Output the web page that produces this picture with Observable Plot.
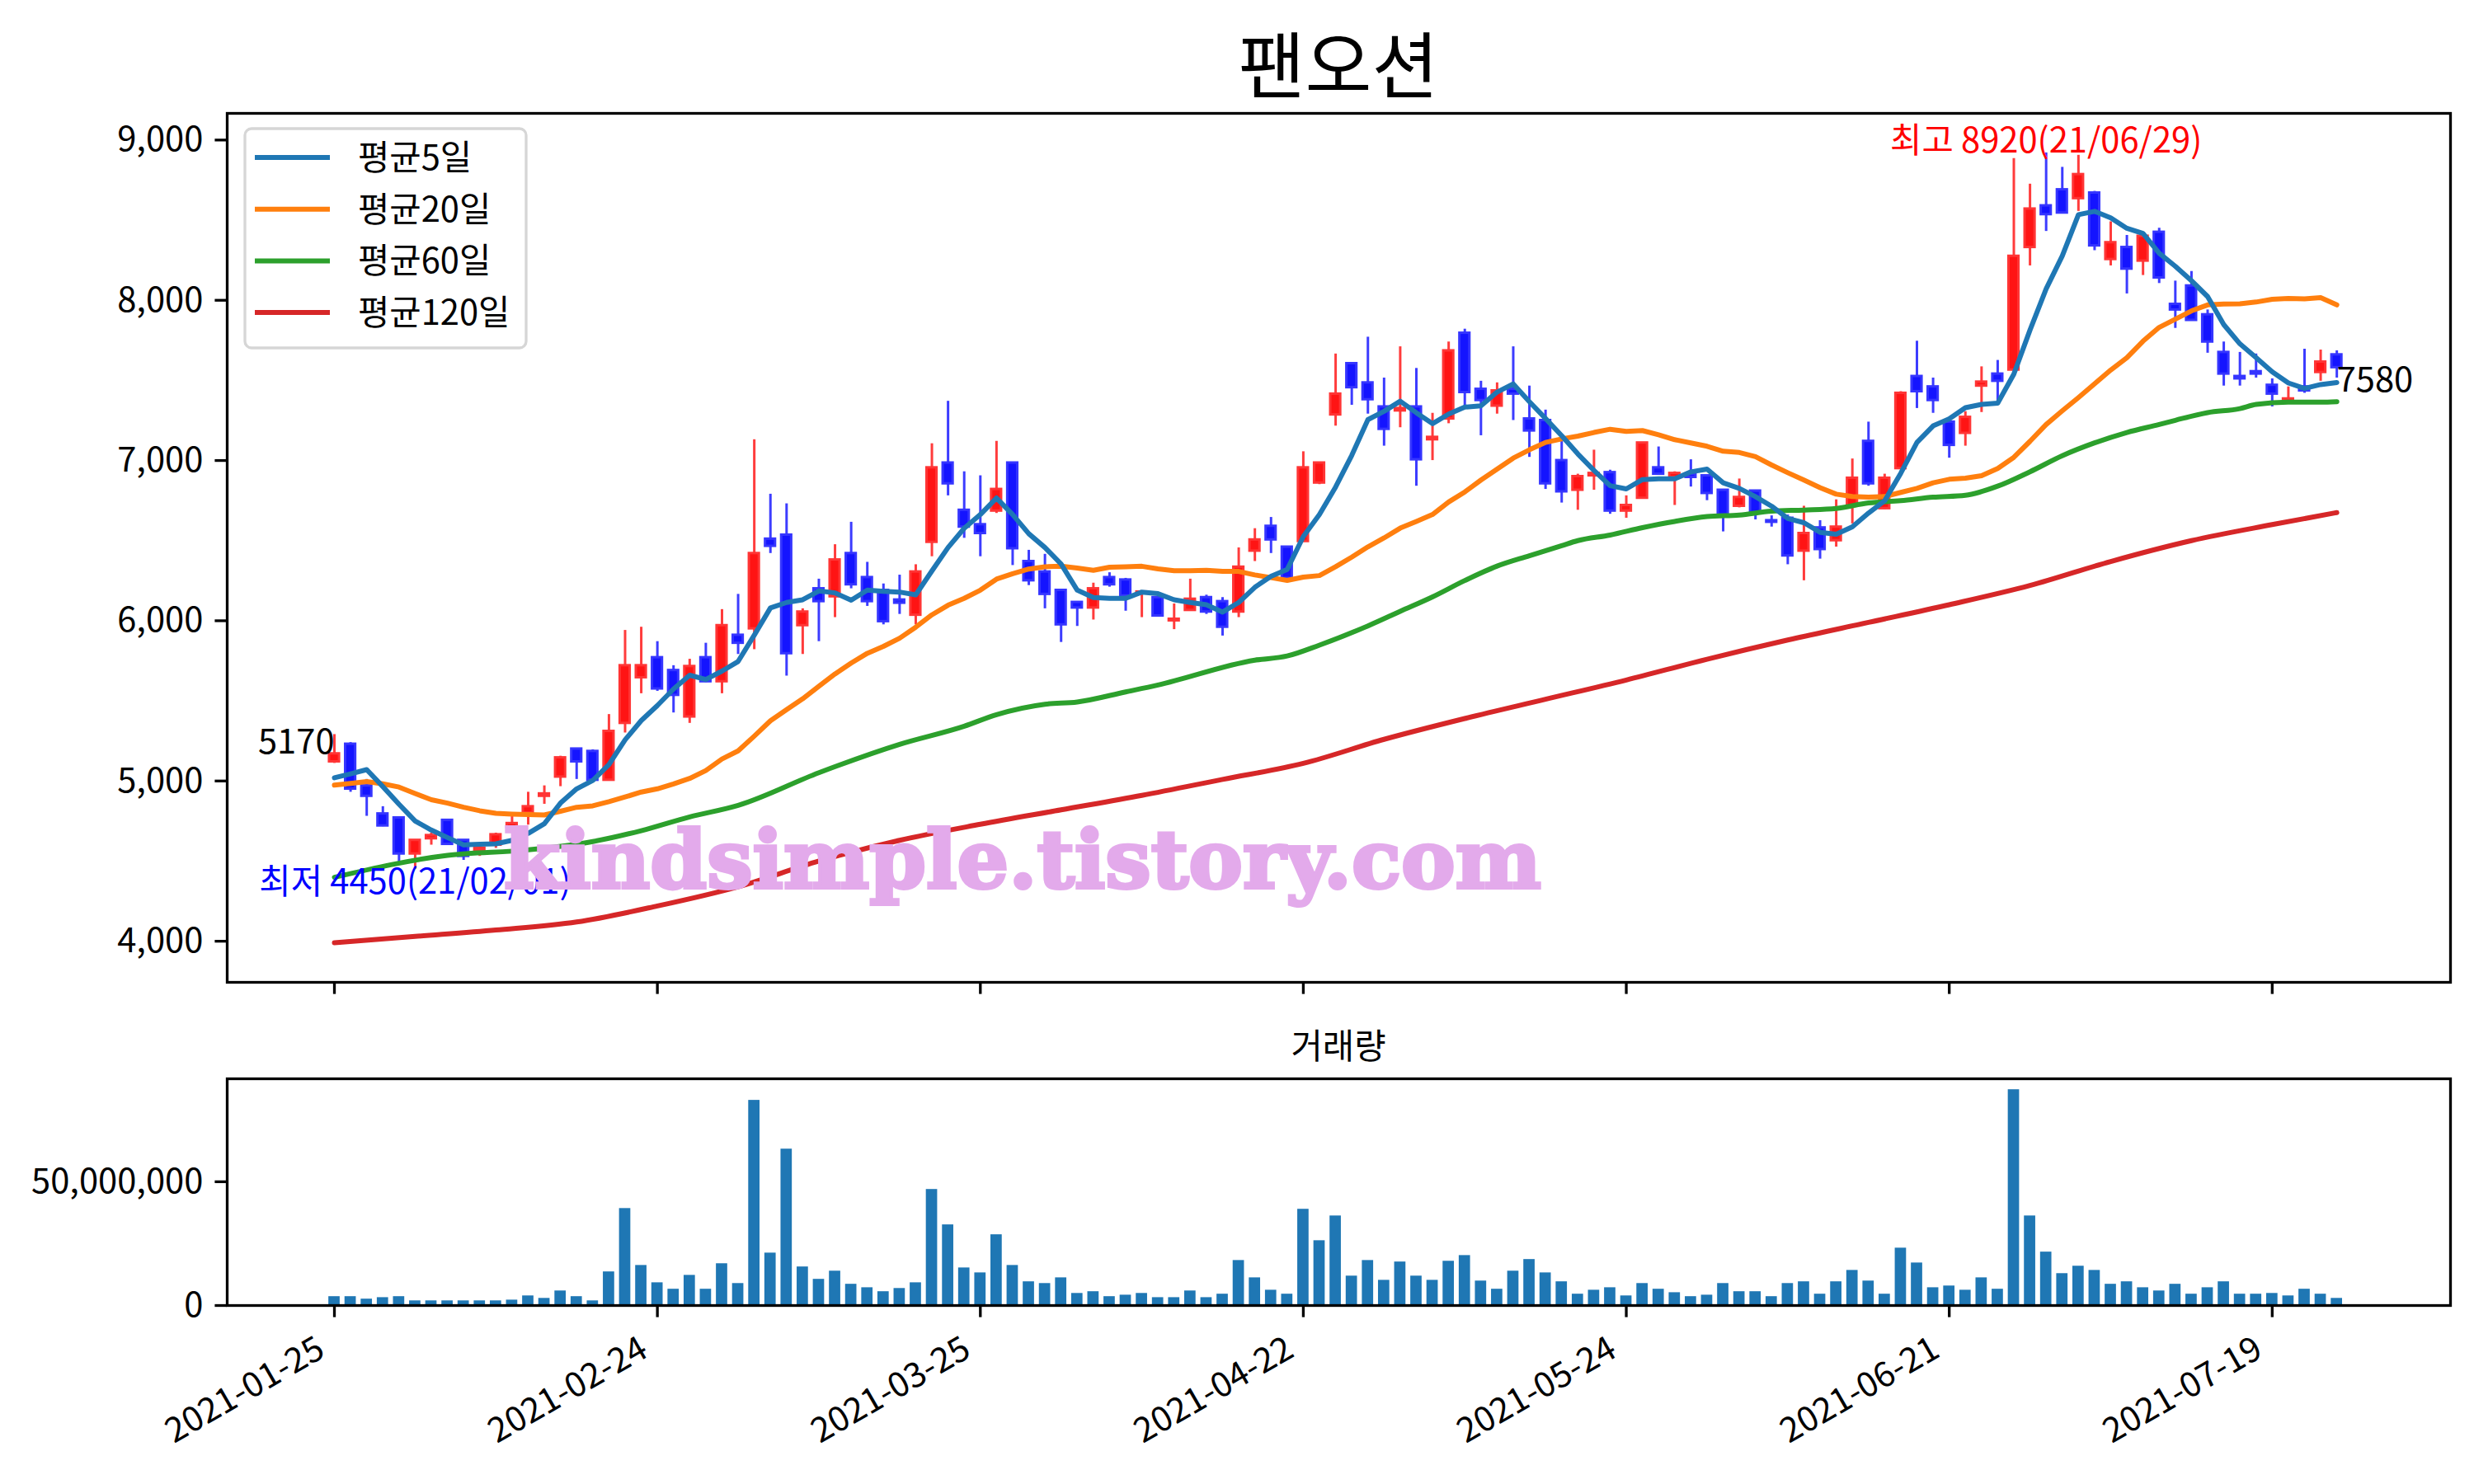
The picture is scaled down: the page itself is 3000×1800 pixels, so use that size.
<!DOCTYPE html>
<html><head><meta charset="utf-8">
<script src="https://cdn.jsdelivr.net/npm/d3@7"></script>
<script src="https://cdn.jsdelivr.net/npm/@observablehq/plot@0.6"></script>
<style>
body{margin:0;background:#fff;}
#fig{position:relative;width:3000px;height:1800px;background:#fff;overflow:hidden;}
#fig > *{position:absolute;left:0;}
</style></head><body><div id="fig"></div>
<script>
// ---- tick labels (trading-day index -> date) ----
const tickIdx = [0, 20, 40, 60, 80, 100, 120];
const tickLabels = ["2021-01-25","2021-02-24","2021-03-25","2021-04-22","2021-05-24","2021-06-21","2021-07-19"];

// ---- daily prices (index 0 = 2021-01-25 ... 124 = 2021-07-23) ----
const open = [5120,5230,4970,4795,4770,4545,4640,4755,4630,4565,4600,4710,4800,4905,5025,5200,5185,5005,5360,5645,
5770,5690,5400,5770,5620,5910,5950,6510,6535,5970,6200,6150,6420,6270,6190,6130,6035,6490,6985,6690,
6600,6685,6985,6370,6305,6190,6115,6080,6270,6255,6170,6145,6000,6065,6145,6120,6055,6435,6590,6460,
6495,6860,7285,7605,7485,7335,7310,7335,7130,7260,7795,7445,7340,7445,7260,7250,7000,6815,6905,6925,
6685,6765,6955,6895,6915,6905,6815,6715,6810,6625,6640,6435,6580,6500,6715,7120,6700,6950,7525,7460,
7240,7170,7465,7540,7565,8330,8590,8690,8635,8670,8255,8330,8245,8425,7975,8090,7910,7675,7525,7555,
7470,7365,7460,7550,7660];
const high = [5290,5240,5010,4840,4770,4630,4675,4755,4630,4590,4675,4780,4930,4970,5155,5200,5195,5415,5940,5960,
5870,5720,5760,5860,6070,6165,7130,6790,6730,6075,6260,6475,6615,6365,6230,6285,6350,7105,7370,6930,
6905,7120,6990,6440,6415,6190,6115,6235,6300,6265,6185,6150,6105,6260,6160,6145,6455,6575,6645,6460,
7055,6990,7665,7605,7770,7515,7710,7575,7295,7740,7820,7495,7485,7710,7465,7315,7125,6915,7065,6940,
6780,7110,7085,6930,7005,6905,6815,6885,6815,6655,6660,6715,6625,6755,7010,7240,6915,7430,7745,7515,
7240,7305,7585,7625,8885,8725,8920,8830,8905,8680,8490,8405,8400,8450,8120,8180,7940,7740,7675,7665,
7510,7460,7695,7690,7685];
const low = [5110,4930,4780,4715,4495,4450,4600,4600,4505,4530,4580,4685,4725,4855,4965,5010,5005,5005,5300,5545,
5560,5425,5360,5615,5545,5790,5820,6420,5655,5790,5870,6020,6200,6090,5975,6040,5975,6400,6780,6515,
6400,6670,6345,6220,6075,5865,5965,6005,6210,6060,6020,6025,5945,6065,6040,5905,6020,6370,6420,6265,
6495,6850,7215,7345,7290,7090,7205,6840,7000,7230,7325,7155,7290,7250,7020,6820,6735,6690,6815,6665,
6640,6765,6910,6720,6835,6750,6555,6705,6630,6585,6350,6250,6385,6460,6605,6840,6695,6950,7325,7295,
7015,7090,7300,7365,7565,8215,8430,8540,8555,8310,8215,8040,8155,8105,7825,7875,7670,7465,7465,7515,
7335,7365,7420,7495,7515];
const close = [5170,4950,4905,4720,4545,4630,4660,4605,4530,4580,4665,4735,4840,4920,5145,5120,5005,5310,5720,5720,
5575,5535,5715,5620,5970,5860,6420,6465,5795,6055,6120,6380,6225,6120,5995,6110,6305,6955,6855,6585,
6545,6820,6450,6250,6165,5975,6080,6200,6225,6155,6180,6030,6010,6135,6055,5960,6335,6505,6505,6265,
6955,6985,7415,7455,7380,7195,7325,7005,7145,7685,7425,7375,7435,7415,7185,6855,6805,6900,6920,6685,
6720,7110,6915,6920,6895,6795,6660,6770,6675,6615,6405,6545,6445,6585,6890,6855,6890,7420,7430,7375,
7095,7270,7490,7495,8275,8570,8535,8545,8785,8340,8360,8195,8400,8140,7940,7875,7740,7540,7510,7540,
7415,7385,7435,7615,7580];
const volume = [3600000,3600000,2600000,3200000,3600000,1900000,1900000,1900000,1900000,1900000,
1900000,2200000,3900000,2900000,5900000,3600000,1900000,13600000,39200000,16200000,
9200000,6600000,12200000,6600000,16900000,8900000,82900000,21200000,63200000,15600000,
10600000,13900000,8600000,7200000,5600000,6900000,9200000,46900000,32600000,15200000,
13200000,28600000,16200000,9600000,8900000,11200000,4900000,5600000,3600000,4200000,
4900000,3200000,3200000,5900000,3200000,4600000,18200000,11200000,6200000,4600000,
38900000,26200000,36200000,11900000,18200000,10200000,17600000,11900000,10200000,17900000,
20200000,9900000,6600000,13900000,18600000,13200000,9600000,4600000,6200000,7200000,
3900000,8900000,6600000,5200000,3600000,4200000,8900000,5600000,5600000,3600000,
8900000,9600000,4600000,9600000,14200000,9900000,4600000,23200000,17200000,7200000,
7900000,6200000,11200000,6600000,87200000,36200000,21600000,12900000,15900000,14200000,
8600000,9600000,7200000,5900000,8600000,4600000,7200000,9600000,4600000,4600000,
4900000,3900000,6600000,4600000,2900000];

// ---- moving averages ----
const ma5 = [5020,5045,5071,4965,4855,4750,4694,4647,4601,4605,4608,4630,4673,4733,4862,4951,5003,5102,5257,5377,
5471,5574,5660,5634,5686,5746,5910,6080,6114,6131,6186,6174,6128,6191,6183,6179,6162,6311,6457,6577,
6663,6766,6663,6543,6457,6354,6191,6145,6140,6140,6179,6169,6131,6114,6100,6054,6114,6209,6277,6320,
6526,6663,6835,7032,7255,7307,7370,7298,7230,7290,7333,7341,7427,7478,7367,7262,7155,7041,6938,6843,
6823,6881,6886,6886,6929,6946,6861,6826,6775,6715,6638,6612,6552,6540,6586,6672,6749,6921,7113,7216,
7260,7330,7350,7358,7539,7814,8071,8277,8534,8555,8514,8449,8417,8294,8212,8122,8023,7848,7728,7642,
7553,7484,7450,7474,7487];
const ma20 = [4974,4985,4996,4982,4962,4922,4883,4862,4836,4814,4798,4793,4790,4788,4811,4836,4845,4871,4900,4931,
4951,4982,5016,5065,5137,5188,5280,5376,5445,5513,5591,5668,5736,5797,5840,5891,5960,6037,6097,6140,
6191,6260,6294,6323,6337,6341,6329,6315,6334,6337,6340,6324,6312,6312,6315,6308,6308,6286,6269,6252,
6272,6282,6337,6397,6461,6517,6578,6620,6663,6741,6804,6878,6946,7015,7067,7113,7135,7152,7175,7195,
7182,7187,7161,7130,7110,7089,7058,7050,7024,6972,6924,6878,6831,6790,6775,6771,6775,6801,6826,6861,
6883,6890,6905,6950,7020,7120,7225,7310,7393,7479,7565,7642,7745,7831,7882,7934,7971,7977,7978,7989,
8006,8011,8009,8016,7971];
const ma60Idx = [0,7,12,16,19,22,25,30,35,39,41,44,46,49,51,57,59,61,64,66,68,70,72,74,76,77,79,81,83,85,87,89,91,93,95,97,99,101,103,105,107,109,111,113,114,116,118,119,121,123,124];
const ma60 = [4399,4536,4570,4622,4690,4776,4848,5052,5229,5342,5414,5479,5493,5556,5599,5754,5780,5848,5968,6059,6149,6251,6341,6406,6469,6500,6535,6581,6620,6650,6660,6684,6691,6701,6735,6749,6771,6783,6840,6930,7030,7110,7175,7225,7251,7299,7324,7350,7364,7364,7367];
const ma120Idx = [0,5,10,15,20,25,30,35,40,45,50,55,60,65,70,75,80,85,90,95,100,105,110,115,120,124];
const ma120 = [3990,4030,4070,4120,4220,4340,4500,4630,4730,4820,4910,5010,5110,5260,5390,5510,5630,5760,5880,5990,6100,6220,6370,6500,6600,6675];

// ---- build tables ----
const candles = open.map((o, i) => ({i, open: o, high: high[i], low: low[i], close: close[i], up: close[i] >= o}));
const vols = volume.map((v, i) => ({i, v}));
const s5 = ma5.map((v, i) => ({i, v}));
const s20 = ma20.map((v, i) => ({i, v}));
const s60 = ma60.map((v, k) => ({i: ma60Idx[k], v}));
const s120 = ma120.map((v, k) => ({i: ma120Idx[k], v}));
const ticks = tickIdx.map((i, k) => ({i, label: tickLabels[k]}));

const FONT = '"Noto Sans CJK KR", "Noto Sans", sans-serif';
const FS = 41.7;
const xDomain = [-6.64, 131.04];
const hw = 0.31, vw = 0.35;
const fig = document.getElementById("fig");

const main = Plot.plot({
  width: 3000, height: 1240,
  marginLeft: 275, marginRight: 29, marginTop: 137, marginBottom: 49,
  style: {fontFamily: FONT, fontSize: FS + "px", background: "transparent", overflow: "visible", color: "black"},
  x: {domain: xDomain, axis: null},
  y: {domain: [3743.5, 9166.5], axis: null},
  marks: [
    Plot.ruleX(candles, {x: "i", y1: "low", y2: "high", stroke: d => d.up ? "#ff3c3c" : "#3c3cff", strokeWidth: 3}),
    Plot.rect(candles, {x1: d => d.i - hw, x2: d => d.i + hw, y1: "open", y2: "close",
      fill: d => d.up ? "#ff1414" : "#1414ff", stroke: d => d.up ? "#ff3535" : "#3535ff", strokeWidth: 3}),
    Plot.line(s120, {x: "i", y: "v", stroke: "#d62728", strokeWidth: 6, curve: "monotone-x"}),
    Plot.line(s60, {x: "i", y: "v", stroke: "#2ca02c", strokeWidth: 6, curve: "monotone-x"}),
    Plot.line(s20, {x: "i", y: "v", stroke: "#ff7f0e", strokeWidth: 6}),
    Plot.line(s5, {x: "i", y: "v", stroke: "#1f77b4", strokeWidth: 6}),
    Plot.text([candles[106]], {x: "i", y: "high", text: d => `최고 ${d.high}(21/06/29)`, fill: "red", textAnchor: "middle", lineAnchor: "bottom", fontSize: FS}),
    Plot.text([candles[5]], {x: "i", y: "low", text: d => `최저 ${d.low}(21/02/01)`, fill: "blue", textAnchor: "middle", lineAnchor: "top", fontSize: FS}),
    Plot.text([candles[0]], {x: "i", y: "close", text: d => `${d.close}`, fill: "black", textAnchor: "end", lineAnchor: "bottom", fontSize: FS}),
    Plot.text([candles[124]], {x: "i", y: "close", text: d => `${d.close}`, fill: "black", textAnchor: "start", lineAnchor: "top", fontSize: FS}),
    Plot.frame({stroke: "black", strokeWidth: 3.3}),
    Plot.axisY({ticks: [4000, 5000, 6000, 7000, 8000, 9000], tickFormat: d3.format(","), tickSize: 14.6, tickPadding: 14.6, strokeWidth: 3.3, fontSize: FS, label: null}),
    Plot.axisX({ticks: tickIdx, tickFormat: () => "", tickSize: 14.6, strokeWidth: 3.3, label: null})
  ]
});
main.style.top = "0px";
fig.appendChild(main);

const vol = Plot.plot({
  width: 3000, height: 560,
  marginLeft: 275, marginRight: 29, marginTop: 68, marginBottom: 217,
  style: {fontFamily: FONT, fontSize: FS + "px", background: "transparent", overflow: "visible", color: "black"},
  x: {domain: xDomain, axis: null},
  y: {domain: [0, 91.6e6], axis: null},
  marks: [
    Plot.rect(vols, {x1: d => d.i - vw, x2: d => d.i + vw, y1: 0, y2: "v", fill: "#1f77b4"}),
    Plot.frame({stroke: "black", strokeWidth: 3.3}),
    Plot.axisY({ticks: [0, 50000000], tickFormat: d3.format(","), tickSize: 14.6, tickPadding: 14.6, strokeWidth: 3.3, fontSize: FS, label: null}),
    Plot.axisX({ticks: tickIdx, tickFormat: () => "", tickSize: 14.6, strokeWidth: 3.3, label: null}),
    Plot.text(ticks, {x: "i", frameAnchor: "bottom", text: "label", rotate: -30, textAnchor: "end", lineAnchor: "top", dx: -24, dy: 35, fontSize: FS, fill: "black"})
  ]
});
vol.style.top = "1240px";
fig.appendChild(vol);

// ---- titles, legend, watermark ----
const ov = d3.select(fig).append("svg").attr("width", 3000).attr("height", 1800)
  .style("top", "0px").style("font-family", FONT).style("pointer-events", "none");
ov.append("text").attr("x", 1623).attr("y", 112).attr("text-anchor", "middle")
  .attr("font-size", 88).attr("fill", "black").text("팬오션");
ov.append("text").attr("x", 1623).attr("y", 1284).attr("text-anchor", "middle")
  .attr("font-size", FS).attr("fill", "black").text("거래량");

const legendItems = [["평균5일", "#1f77b4"], ["평균20일", "#ff7f0e"], ["평균60일", "#2ca02c"], ["평균120일", "#d62728"]];
ov.append("rect").attr("x", 297).attr("y", 156).attr("width", 341).attr("height", 266).attr("rx", 8)
  .attr("fill", "white").attr("fill-opacity", 0.8).attr("stroke", "#d6d6d6").attr("stroke-width", 3.3);
legendItems.forEach(([label, color], k) => {
  const y = 191 + k * 62.7;
  ov.append("line").attr("x1", 309).attr("x2", 400).attr("y1", y).attr("y2", y).attr("stroke", color).attr("stroke-width", 6);
  ov.append("text").attr("x", 434).attr("y", y).attr("dy", "0.36em").attr("font-size", FS).attr("fill", "black").text(label);
});

ov.append("text").attr("x", 611).attr("y", 1077).attr("font-size", 98)
  .attr("font-family", '"DejaVu Serif", serif').attr("font-weight", "bold")
  .attr("fill", "#e3aaeb").attr("stroke", "#e3aaeb").attr("stroke-width", 4)
  .attr("textLength", 1258).attr("lengthAdjust", "spacingAndGlyphs")
  .text("kindsimple.tistory.com");
</script></body></html>
